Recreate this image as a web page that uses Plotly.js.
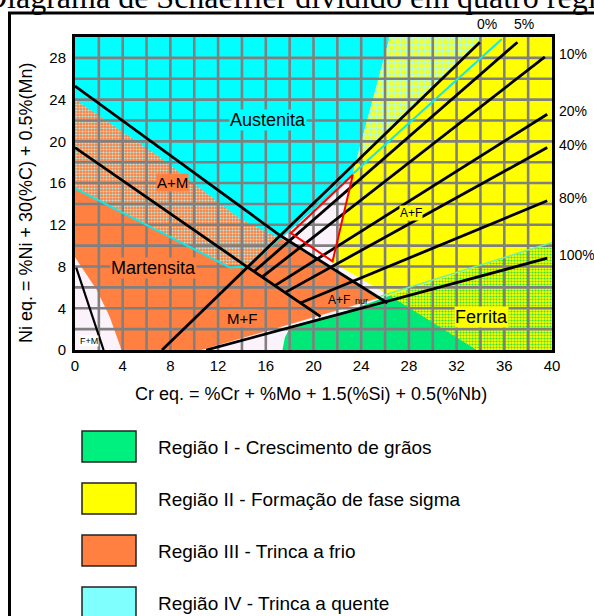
<!DOCTYPE html>
<html>
<head>
<meta charset="utf-8">
<script src="https://cdn.plot.ly/plotly-3.0.1.min.js"></script>
<style>
  html, body { margin: 0; padding: 0; background: #ffffff; }
  #chart { width: 594px; height: 616px; }
</style>
</head>
<body>
<div id="chart"></div>
<script>
// ---- Schaeffler diagram data (Cr eq. on x, Ni eq. on y) ----
const chartTitle = 'Diagrama de Schaeffler dividido em quatro regiões';
const xTitle = 'Cr eq. = %Cr + %Mo + 1.5(%Si) + 0.5(%Nb)';
const yTitle = 'Ni eq. = %Ni + 30(%C) + 0.5%(Mn)';
const xTicks = [0, 4, 8, 12, 16, 20, 24, 28, 32, 36, 40];
const yTicks = [0, 4, 8, 12, 16, 20, 24, 28];
const xGrid = [2, 4, 6, 8, 10, 12, 14, 16, 18, 20, 22, 24, 26, 28, 30, 32, 34, 36, 38];
const yGrid = [2, 4, 6, 8, 10, 12, 14, 16, 18, 20, 22, 24, 26, 28];

// Region IV (austenite, hot cracking)
const regionIVCr = [0, 26.4, 23.3, 14.5, 13.0, 0];
const regionIVNi = [30, 30, 17.0, 8.0, 7.9, 15.5];
// Region II (sigma phase)
const regionIICr = [26.4, 40, 40, 26.4, 21.6, 23.3];
const regionIINi = [30, 30, 10.3, 5.2, 8.4, 16.9];
// sigma zone bordering the austenite
const sigmaAusCr = [26.4, 34.4, 23.56];
const sigmaAusNi = [30, 30, 18.0];
// Region III (martensite, cold cracking)
const regionIIICr = [0, 13.0, 14.4, 17.1, 25.6, 10.6, 3.9, 2.9, 1.8, 0];
const regionIIINi = [15.5, 7.9, 8.0, 10.8, 5.0, 0, 0, 3.2, 5.8, 8.9];
// A+M band inside region III
const amBandCr = [0, 7.1, 13.8, 17.0, 14.4, 13.0, 0];
const amBandNi = [24.0, 18.5, 12.6, 10.8, 8.0, 7.9, 15.5];
// Region I (grain growth)
const regionICr = [17.4, 17.6, 18.1, 23.0, 26.6, 33.7];
const regionINi = [0, 1.2, 2.3, 3.8, 5.3, 0];
// ferrite zone inside region I / II
const ferriteZoneCr = [26.4, 40, 40, 33.7];
const ferriteZoneNi = [5.2, 10.3, 0, 0];

// Phase boundaries
const austeniteLineCr = [0, 17.3, 26.2];
const austeniteLineNi = [25.3, 10.9, 4.5];
const martensiteLineCr = [0, 14.4, 20.6];
const martensiteLineNi = [19.4, 8.0, 3.2];
const fmLineCr = [0.1, 1.2, 2.4];
const fmLineNi = [7.9, 4.2, 0];

// Iso-ferrite lines: start (Cr, Ni) and end (Cr, Ni)
const ferriteLabels = ['0%', '5%', '10%', '20%', '40%', '80%', '100%'];
const ferriteStartCr = [7.3, 15.0, 15.7, 16.8, 17.6, 18.9, 11.0];
const ferriteStartNi = [0, 7.5, 7.0, 6.2, 5.5, 4.5, 0];
const ferriteEndCr = [33.95, 37.1, 39.4, 39.6, 39.6, 39.6, 39.6];
const ferriteEndNi = [29.5, 29.5, 28.1, 22.6, 19.4, 14.3, 8.8];

// Accent outlines
const redZoneCr = [23.3, 18.1, 21.6, 23.3];
const redZoneNi = [16.8, 11.2, 8.5, 16.8];
const cyanEdgeCr = [0, 13.0, 14.5, 23.4, 35.8];
const cyanEdgeNi = [15.5, 7.9, 8.0, 17.0, 29.8];
const greenEdgeCr = [25.5, 40];
const greenEdgeNi = [5.1, 10.3];

// Phase labels
const phaseNames = ['Austenita', 'Martensita', 'A+M', 'M+F', 'A+F', 'A+F', 'nur', 'Ferrita', 'F+M'];
const phaseCr = [16.2, 6.6, 8.2, 14.0, 28.2, 22.1, 24.0, 34.1, 1.2];
const phaseNi = [22.0, 7.9, 16.1, 3.0, 13.1, 4.8, 4.7, 3.2, 0.85];

// Legend entries
const legendLabels = [
  'Região I - Crescimento de grãos',
  'Região II - Formação de fase sigma',
  'Região III - Trinca a frio',
  'Região IV - Trinca a quente'
];

// ---- styling ----
const C = {
  cyan: '#00ffff', yellow: '#ffff00', orange: '#ff8040', green: '#00e878',
  bg: '#fbf2fb', grid: '#808080'
};
const legendColors = ['#00f080', '#ffff00', '#ff8040', '#80ffff'];
const phaseSizes = [18, 18, 15, 15, 12, 12, 9, 18, 9];
const phaseBg = [C.cyan, C.orange, C.orange, C.orange, C.yellow, null, null, C.yellow, '#ffffff'];
const sans = 'Liberation Sans, Arial, sans-serif';

// plot box in pixels
const PL = 75, PR = 552, PT = 37, PB = 350;
const px2x = X => (X - PL) / (PR - PL);
const px2y = Y => (PB - Y) / (PB - PT);

function area(cr, ni, color, pattern) {
  const t = {
    x: cr.concat([cr[0]]), y: ni.concat([ni[0]]),
    mode: 'lines', fill: 'toself', fillcolor: color,
    line: { width: 0, color: color }, hoverinfo: 'skip', showlegend: false
  };
  if (pattern) t.fillpattern = pattern;
  return t;
}
function path(cr, ni, color, width) {
  return { x: cr, y: ni, mode: 'lines', line: { color: color, width: width },
           hoverinfo: 'skip', showlegend: false };
}

const traces = [];
traces.push(area(regionIVCr, regionIVNi, C.cyan));
traces.push(area(regionIICr, regionIINi, C.yellow));
traces.push(area(sigmaAusCr, sigmaAusNi, C.yellow,
  { shape: '.', bgcolor: C.yellow, fgcolor: '#a8ffff', size: 3, solidity: 0.45, fillmode: 'replace' }));
traces.push(area(regionIIICr, regionIIINi, C.orange));
traces.push(area(amBandCr, amBandNi, C.orange,
  { shape: '.', bgcolor: C.orange, fgcolor: '#b8e8e0', size: 3, solidity: 0.4, fillmode: 'replace' }));
traces.push(area(regionICr, regionINi, C.green));
traces.push(area(ferriteZoneCr, ferriteZoneNi, C.yellow,
  { shape: '.', bgcolor: C.yellow, fgcolor: '#30e030', size: 3, solidity: 0.4, fillmode: 'replace' }));

// grid drawn over the regions
const gx = [], gy = [];
xGrid.forEach(v => { gx.push(v, v, null); gy.push(0, 30, null); });
yGrid.forEach(v => { gx.push(0, 40, null); gy.push(v, v, null); });
traces.push(path(gx, gy, C.grid, 2.6));

traces.push(path(cyanEdgeCr, cyanEdgeNi, '#10e8e8', 2));
traces.push(path(greenEdgeCr, greenEdgeNi, '#70f0a0', 1.5));
traces.push(path(austeniteLineCr, austeniteLineNi, '#000000', 2.8));
traces.push(path(martensiteLineCr, martensiteLineNi, '#000000', 2.8));
traces.push(path(fmLineCr, fmLineNi, '#000000', 2.2));
ferriteLabels.forEach((lab, i) => {
  traces.push(path([ferriteStartCr[i], ferriteEndCr[i]], [ferriteStartNi[i], ferriteEndNi[i]], '#000000', 2.8));
});
traces.push(path(redZoneCr, redZoneNi, '#ff0000', 2));

const annotations = [];
// phase labels
phaseNames.forEach((name, i) => {
  const a = {
    x: phaseCr[i], y: phaseNi[i], xref: 'x', yref: 'y', text: name, showarrow: false,
    xanchor: 'center', yanchor: 'middle',
    font: { family: sans, size: phaseSizes[i], color: '#000000' }, borderpad: 0
  };
  if (phaseBg[i]) a.bgcolor = phaseBg[i];
  annotations.push(a);
});
// iso-ferrite labels
ferriteLabels.forEach((lab, i) => {
  if (i < 2) {
    annotations.push({ x: ferriteEndCr[i], y: px2y(24), xref: 'x', yref: 'paper', text: lab,
      showarrow: false, xanchor: 'center', yanchor: 'middle', xshift: 7,
      font: { family: sans, size: 14, color: '#000000' } });
  } else {
    annotations.push({ x: px2x(557), y: ferriteEndNi[i], xref: 'paper', yref: 'y', text: lab,
      showarrow: false, xanchor: 'left', yanchor: 'middle', yshift: 3,
      font: { family: sans, size: 14, color: '#000000' } });
  }
});
// titles
annotations.push({ x: px2x(311), y: px2y(16), xref: 'paper', yref: 'paper', text: chartTitle,
  showarrow: false, xanchor: 'center', yanchor: 'bottom', borderpad: 0,
  font: { family: 'Liberation Serif, Times New Roman, serif', size: 32, color: '#000000' } });
annotations.push({ x: px2x(311), y: px2y(394), xref: 'paper', yref: 'paper', text: xTitle,
  showarrow: false, xanchor: 'center', yanchor: 'middle',
  font: { family: sans, size: 18, color: '#000000' } });
annotations.push({ x: px2x(26), y: px2y(203), xref: 'paper', yref: 'paper', text: yTitle,
  showarrow: false, xanchor: 'center', yanchor: 'middle', textangle: -90,
  font: { family: sans, size: 18, color: '#000000' } });

// legend
const shapes = [];
legendLabels.forEach((lab, i) => {
  const top = 431 + i * 52;
  shapes.push({ type: 'rect', xref: 'paper', yref: 'paper',
    x0: px2x(82), x1: px2x(136), y0: px2y(top), y1: px2y(top + 31),
    fillcolor: legendColors[i], line: { color: '#222222', width: 1.5 } });
  annotations.push({ x: px2x(156), y: px2y(top + 16), xref: 'paper', yref: 'paper', text: lab,
    showarrow: false, xanchor: 'left', yanchor: 'middle',
    font: { family: sans, size: 19, color: '#000000' } });
});
// outer frame
shapes.push({ type: 'line', xref: 'paper', yref: 'paper', x0: px2x(9.5), x1: px2x(9.5), y0: px2y(12), y1: px2y(640),
  line: { color: '#000000', width: 3 } });
shapes.push({ type: 'line', xref: 'paper', yref: 'paper', x0: px2x(8), x1: px2x(620), y0: px2y(13), y1: px2y(13),
  line: { color: '#000000', width: 3 } });

const axisCommon = {
  showgrid: false, zeroline: false, showline: true, mirror: true,
  linecolor: '#000000', linewidth: 3, ticks: '', fixedrange: true,
  tickfont: { family: sans, size: 15, color: '#000000' }
};
const layout = {
  width: 594, height: 616,
  margin: { l: PL, r: 594 - PR, t: PT, b: 616 - PB, pad: 0 },
  paper_bgcolor: '#ffffff', plot_bgcolor: C.bg,
  showlegend: false,
  xaxis: Object.assign({}, axisCommon, { range: [0, 40], tickvals: xTicks, ticktext: xTicks.map(String), ticklabelstandoff: 0 }),
  yaxis: Object.assign({}, axisCommon, { range: [0, 30], tickvals: yTicks, ticktext: yTicks.map(String), ticklabelstandoff: 3 }),
  annotations: annotations,
  shapes: shapes
};

Plotly.newPlot('chart', traces, layout, { staticPlot: true, displayModeBar: false });
</script>
</body>
</html>
